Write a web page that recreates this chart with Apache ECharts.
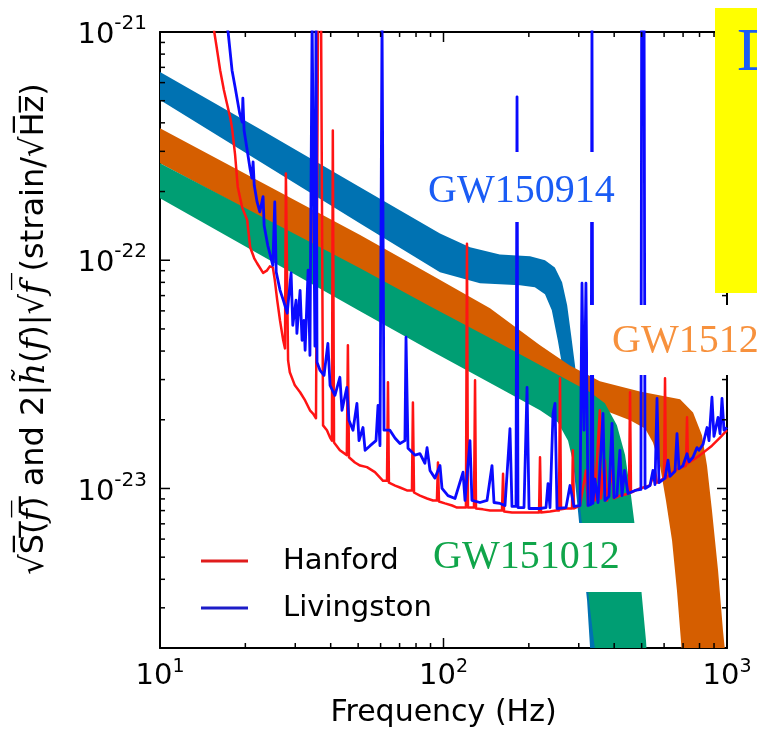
<!DOCTYPE html>
<html><head><meta charset="utf-8">
<script src="https://cdn.jsdelivr.net/npm/echarts@6/dist/echarts.min.js"></script>
<style>html,body{margin:0;padding:0;background:#fff}#c{width:757px;height:741px}</style>
</head><body><div id="c"></div>
<script>
// ---------- axes ----------
const xTicks = [10, 100, 1000];
const xMinorTicks = [20,30,40,50,60,70,80,90,200,300,400,500,600,700,800,900];
const yTicks = [1e-23, 1e-22, 1e-21];
const yMinorTicks = [3e-24,4e-24,5e-24,6e-24,7e-24,8e-24,9e-24,2e-23,3e-23,4e-23,5e-23,6e-23,7e-23,8e-23,9e-23,2e-22,3e-22,4e-22,5e-22,6e-22,7e-22,8e-22,9e-22];
const yMin = 2e-24, yMax = 1e-21;

// ---------- signal bands: [frequency Hz, strain] ----------
const gw150914Upper = [[10,6.68e-22],[22.5,3.76e-22],[50.8,2.09e-22],[97.2,1.31e-22],[124,1.14e-22],[158,1.06e-22],[202,1.04e-22],[228,1.0e-22],[247,9.3e-23],[262,8.0e-23],[273,6.35e-23],[282,4.69e-23],[291,3.46e-23],[301,2.31e-23],[313,1.2e-23],[329,5.9e-24],[342,3.2e-24],[359,1.6e-24]];
const gw150914Lower = [[10,5.03e-22],[50.8,1.45e-22],[97.2,8.86e-23],[134.5,7.93e-23],[186,7.77e-23],[210,7.61e-23],[228,7.1e-23],[241,6.04e-23],[253,4.46e-23],[264,3.29e-23],[275,2.2e-23],[286,1.33e-23],[298,8.0e-24],[310,4.83e-24],[321,3.23e-24],[329,1.99e-24],[334,1.59e-24]];
const gw151226Upper = [[10,3.79e-22],[50.8,1.29e-22],[89.6,8.68e-23],[145.9,6.16e-23],[219,4.24e-23],[279,3.46e-23],[356,2.95e-23],[493,2.66e-23],[683,2.46e-23],[759,2.15e-23],[816,1.71e-23],[850,1.26e-23],[885,8.0e-24],[930,4.37e-24],[968,2.38e-24],[1000,1.59e-24]];
const gw151226Lower = [[10,2.66e-22],[50.8,9.04e-23],[89.6,6.04e-23],[145.9,4.24e-23],[258,2.75e-23],[356,2.24e-23],[455,1.99e-23],[514,1.83e-23],[548,1.59e-23],[580,1.26e-23],[609,8.86e-24],[640,5.91e-24],[666,3.57e-24],[688,2.15e-24],[699,1.59e-24]];
const gw151012Upper = [[10,2.66e-22],[50.8,9.23e-23],[89.6,6.28e-23],[158,4.33e-23],[237.5,3.29e-23],[329,2.64e-23],[371,2.36e-23],[409,1.89e-23],[437,1.40e-23],[458.5,9.32e-24],[477.5,6.22e-24],[497,3.75e-24],[518,2.15e-24],[526,1.59e-24]];
const gw151012Lower = [[10,1.87e-22],[50.8,5.97e-23],[89.6,4.03e-23],[158,2.75e-23],[219,2.2e-23],[253,1.95e-23],[275,1.62e-23],[291,1.2e-23],[303,8.42e-24],[315.5,5.35e-24],[326,3.23e-24],[342,1.99e-24],[348,1.59e-24]];

// ---------- detector noise: [frequency Hz, strain/sqrt(Hz)] ----------
const hanford = [[15.3,1.13e-21],[15.8,8.77e-22],[16.3,6.8e-22],[16.8,5.57e-22],[17.2,4.9e-22],[17.7,4.2e-22],[17.95,3.8e-22],[18.4,2.9e-22],[18.8,2.1e-22],[19.5,1.7e-22],[20.3,1.5e-22],[20.8,1.14e-22],[21.5,1.02e-22],[22.0,9.7e-23],[23.1,8.8e-23],[23.8,9.0e-23],[24.4,9.4e-23],[25.0,9.3e-23],[25.4,8.2e-23],[25.9,6.7e-23],[26.5,5.45e-23],[27.2,4.46e-23],[27.6,4.11e-23],[27.8,2.4e-22],[28.3,3.64e-23],[28.7,3.23e-23],[29.9,2.83e-23],[31.2,2.64e-23],[32.5,2.43e-23],[33.8,2.2e-23],[34.65,2.13e-23],[35.5,2.03e-23],[36.1,1.13e-21],[37.0,1.13e-21],[37.6,1.89e-23],[38.8,1.80e-23],[39.8,1.67e-23],[40.4,1.62e-23],[40.7,3.7e-22],[41.1,1.59e-23],[43.1,1.47e-23],[45.6,1.4e-23],[46.0,4.24e-23],[46.4,1.37e-23],[48.7,1.30e-23],[50.8,1.26e-23],[53.7,1.24e-23],[57.3,1.18e-23],[61.2,1.08e-23],[63.2,1.08e-23],[63.7,2.92e-23],[64.2,1.06e-23],[67.5,1.03e-23],[70.2,1.01e-23],[74.3,9.8e-24],[77.4,9.8e-24],[78.0,2.38e-23],[78.7,9.6e-24],[82.6,9.3e-24],[87.5,9.04e-24],[91.8,8.86e-24],[94.8,8.86e-24],[95.6,1.30e-23],[96.4,8.77e-24],[101.2,8.6e-24],[107.2,8.42e-24],[111.6,8.25e-24],[120.0,8.25e-24],[121.0,1.18e-22],[122.0,8.25e-24],[126.0,8.25e-24],[128.1,8.25e-24],[129.2,2.98e-23],[130.2,8.17e-24],[137.8,8.1e-24],[145.9,8.0e-24],[160.8,8.0e-24],[162.2,1.16e-23],[163.5,7.93e-24],[174.4,7.85e-24],[186,7.85e-24],[201.9,7.85e-24],[217.3,7.85e-24],[219,1.37e-23],[220.8,7.85e-24],[237.5,7.93e-24],[249.4,8.0e-24],[255.5,8.0e-24],[257.6,3.04e-23],[259.7,8.1e-24],[270.5,8.17e-24],[284,8.17e-24],[285.9,1.47e-23],[288.6,8.17e-24],[303,8.42e-24],[318,1.2e-23],[323.4,8.42e-24],[336.5,1.40e-23],[342,8.86e-24],[350.8,1.62e-23],[356,2.2e-23],[359.4,9.04e-24],[371,1.33e-23],[377.4,8.86e-24],[393,1.2e-23],[399.4,9.04e-24],[419,9.3e-24],[451.1,9.5e-24],[455,2.64e-23],[458.5,9.6e-24],[493,1.0e-23],[535,1.03e-23],[557,1.2e-23],[566,1.06e-23],[599.7,1.11e-23],[604.5,3.04e-23],[609,1.11e-23],[655.6,1.2e-23],[716.9,1.26e-23],[722.8,2.05e-23],[728.6,1.29e-23],[803.5,1.4e-23],[885,1.54e-23],[945,1.67e-23],[1000,1.8e-23]];
const livingston = [[17.1,1.13e-21],[17.4,9.9e-22],[17.95,6.8e-22],[18.4,5.74e-22],[19.1,4.4e-22],[19.5,4.03e-22],[19.6,5.13e-22],[19.8,3.7e-22],[20.3,3.04e-22],[20.8,2.5e-22],[21.1,2.29e-22],[21.3,2.7e-22],[21.5,2.13e-22],[22.0,1.8e-22],[22.5,1.63e-22],[23.1,1.9e-22],[23.3,1.42e-22],[24.0,1.16e-22],[24.4,1.07e-22],[25.0,9.5e-23],[25.4,1.8e-22],[25.7,8.88e-23],[26.5,7.4e-23],[27.2,6.7e-23],[28.1,5.86e-23],[29.0,8.8e-23],[29.4,5.19e-23],[30.2,6.68e-23],[30.4,4.78e-23],[31.2,7.38e-23],[31.7,4.46e-23],[32.2,5.45e-23],[32.5,4.03e-23],[33.3,9.04e-23],[33.8,3.83e-23],[34.4,1.13e-21],[34.9,1.13e-21],[35.2,4.2e-23],[35.5,1.13e-21],[35.8,3.57e-23],[36.7,3.29e-23],[37.9,3.13e-23],[39.1,4.32e-23],[39.8,2.83e-23],[41.4,2.56e-23],[43.1,3.07e-23],[43.85,2.2e-23],[45.6,2.77e-23],[46.4,1.99e-23],[47.95,1.8e-23],[49.5,2.36e-23],[50.35,1.62e-23],[52.0,1.85e-23],[52.9,1.47e-23],[55.1,1.54e-23],[57.8,1.62e-23],[58.75,2.31e-23],[59.7,1.54e-23],[60.7,1.13e-21],[61.7,1.8e-23],[64.7,1.8e-23],[67.5,1.66e-23],[70.2,1.575e-23],[73.1,1.62e-23],[73.75,4.6e-23],[74.95,1.5e-23],[79.3,1.4e-23],[82.6,1.42e-23],[86.0,1.29e-23],[87.5,1.51e-23],[89.6,1.2e-23],[93.3,1.11e-23],[97.2,1.26e-23],[98.8,1.0e-23],[103.7,9.3e-24],[109.8,9.04e-24],[117.2,1.18e-23],[119.1,8.86e-24],[124.0,1.62e-23],[126.0,8.86e-24],[134.5,8.68e-24],[142.4,8.86e-24],[148.3,1.26e-23],[150.7,8.68e-24],[158.2,8.6e-24],[164.8,8.42e-24],[171.6,1.83e-23],[174.4,8.34e-24],[180.2,8.34e-24],[181.7,5.2e-22],[183.1,8.25e-24],[192.3,8.25e-24],[197.1,2.77e-23],[200.3,8.17e-24],[219,8.17e-24],[229.9,8.25e-24],[233.7,1.05e-23],[237.5,8.25e-24],[243.4,2.13e-23],[247.4,2.36e-23],[251.4,8.17e-24],[270.5,8.25e-24],[279.4,1.03e-23],[288.6,8.34e-24],[303,8.42e-24],[308,7.93e-23],[313,1.8e-23],[318,7.93e-23],[323.4,8.42e-24],[331.4,8.51e-24],[334,1.13e-21],[336.5,8.6e-24],[342,1.1e-23],[350.8,8.68e-24],[365.3,2.13e-23],[371,8.86e-24],[383.5,9.23e-24],[393,1.93e-23],[399.4,9.13e-24],[409,9.3e-24],[419,1.47e-23],[426.2,9.3e-24],[435,1.2e-23],[447.5,9.5e-24],[473.8,9.8e-24],[497,9.9e-24],[500,1.13e-21],[505,1.13e-21],[510,1.13e-21],[514,1.0e-23],[535.1,1.03e-23],[548,1.2e-23],[557.2,1.04e-23],[566.4,2.48e-23],[575.6,1.06e-23],[604.5,1.11e-23],[619.4,1.33e-23],[629.5,1.13e-23],[655.6,1.19e-23],[666.3,1.74e-23],[677.2,1.22e-23],[699.4,1.26e-23],[722.8,1.42e-23],[734.5,1.31e-23],[758.6,1.37e-23],[783.7,1.51e-23],[796.3,1.47e-23],[823,1.56e-23],[850.4,1.85e-23],[864,1.62e-23],[885,2.51e-23],[899.5,1.69e-23],[930,2.05e-23],[945,1.74e-23],[960.2,2.48e-23],[975.9,1.8e-23],[1000,1.85e-23]];

const FONT = 'DejaVu Sans';
// The log axis works in units of 1e-23 strain (ECharts rounds tiny extents); labels restore the exponent.
const UNIT_EXP = -23;
const UNIT = Math.pow(10, UNIT_EXP);
const scaled = arr => arr.map(p => [p[0], p[1] / UNIT]);
const supX = v => '{b|10}{s|' + Math.round(Math.log10(v)) + '}';
const supY = v => '{b|10}{s|' + (Math.round(Math.log10(v)) + UNIT_EXP) + '}';

function bandSeries(name, upper, lower, color) {
  const up = scaled(upper), lo = scaled(lower);
  return {
    type: 'custom', name: name, coordinateSystem: 'cartesian2d', clip: true, silent: true,
    data: up,
    renderItem: function (params, api) {
      if (params.dataIndex !== 0) return null;
      const pts = up.concat(lo.slice().reverse()).map(p => api.coord(p));
      return { type: 'polygon', shape: { points: pts }, style: { fill: color } };
    }
  };
}
// inward ticks on all four sides, positioned through the axes' own scales
function tickSeries(values, isX, len) {
  return {
    type: 'custom', coordinateSystem: 'cartesian2d', clip: false, silent: true, z: 10,
    data: values.map(v => isX ? [v, 1] : [100, v / UNIT]),
    renderItem: function (params, api) {
      const cs = params.coordSys;
      const st = { stroke: '#000', lineWidth: 1.5 };
      if (isX) {
        const x = api.coord([api.value(0), 1])[0];
        const b = cs.y + cs.height, t = cs.y;
        return { type: 'group', children: [
          { type: 'line', shape: { x1: x, y1: b, x2: x, y2: b - len }, style: st },
          { type: 'line', shape: { x1: x, y1: t, x2: x, y2: t + len }, style: st } ] };
      }
      const y = api.coord([100, api.value(1)])[1];
      const l = cs.x, r = cs.x + cs.width;
      return { type: 'group', children: [
        { type: 'line', shape: { x1: l, y1: y, x2: l + len, y2: y }, style: st },
        { type: 'line', shape: { x1: r, y1: y, x2: r - len, y2: y }, style: st } ] };
    }
  };
}

const axisLineStyle = { show: true, onZero: false, lineStyle: { color: '#000', width: 2 } };
const chart = echarts.init(document.getElementById('c'), null, { renderer: 'canvas' });
chart.setOption({
  animation: false,
  backgroundColor: '#fff',
  textStyle: { fontFamily: FONT },
  grid: { left: 160, top: 32, right: 30, bottom: 93, containLabel: false },
  xAxis: [
    { type: 'log', logBase: 10, min: 10, max: 1000, position: 'bottom', axisLine: axisLineStyle,
      axisTick: { show: false }, splitLine: { show: false },
      axisLabel: { show: true, customValues: xTicks, formatter: supX, margin: 10,
        rich: { b: { fontSize: 29, fontFamily: FONT, color: '#000', verticalAlign: 'bottom' },
                s: { fontSize: 19, fontFamily: FONT, color: '#000', verticalAlign: 'bottom', padding: [0, 0, 14, 0] } } },
      name: 'Frequency (Hz)', nameLocation: 'middle', nameGap: 50,
      nameTextStyle: { fontSize: 30, fontFamily: FONT, color: '#000' } },
    { type: 'log', logBase: 10, min: 10, max: 1000, position: 'top', axisLine: axisLineStyle,
      axisTick: { show: false }, axisLabel: { show: false }, splitLine: { show: false } }
  ],
  yAxis: [
    { type: 'log', logBase: 10, min: yMin / UNIT, max: yMax / UNIT, position: 'left', axisLine: axisLineStyle,
      axisTick: { show: false }, splitLine: { show: false },
      axisLabel: { show: true, customValues: yTicks.map(v => v / UNIT), formatter: supY, margin: 13,
        rich: { b: { fontSize: 29, fontFamily: FONT, color: '#000', verticalAlign: 'bottom' },
                s: { fontSize: 20, fontFamily: FONT, color: '#000', verticalAlign: 'bottom', padding: [0, 0, 16, 0] } } },
      name: '√S\u0305(\u0305{i|f\u0305})\u0305 and 2|{i|h\u0303}({i|f})|√{i|f\u0305} (strain/√H\u0305z\u0305)',
      nameLocation: 'middle', nameGap: 108,
      nameTextStyle: { fontSize: 32, fontFamily: FONT, color: '#000', padding: [0, 0, 0, 22],
        rich: { i: { fontSize: 34, fontFamily: 'DejaVu Serif', fontStyle: 'italic', color: '#000' } } } },
    { type: 'log', logBase: 10, min: yMin / UNIT, max: yMax / UNIT, position: 'right', axisLine: axisLineStyle,
      axisTick: { show: false }, axisLabel: { show: false }, splitLine: { show: false } }
  ],
  legend: {
    data: ['Hanford', 'Livingston'], orient: 'vertical', left: 196, top: 541,
    icon: 'rect', itemWidth: 47, itemHeight: 3, itemGap: 17,
    textStyle: { fontSize: 29, fontFamily: FONT, color: '#000', lineHeight: 30, padding: [0, 0, 0, 30] }
  },
  series: [
    bandSeries('GW150914', gw150914Upper, gw150914Lower, '#0072b2'),
    bandSeries('GW151226', gw151226Upper, gw151226Lower, '#d55e00'),
    bandSeries('GW151012', gw151012Upper, gw151012Lower, '#009e73'),
    { type: 'line', name: 'Hanford', data: scaled(hanford), symbol: 'none', showSymbol: false, clip: true,
      lineStyle: { color: '#ff1414', width: 2.5, join: 'round' }, itemStyle: { color: '#e01c1c' }, emphasis: { disabled: true } },
    { type: 'line', name: 'Livingston', data: scaled(livingston), symbol: 'none', showSymbol: false, clip: true,
      lineStyle: { color: '#0a0aff', width: 2.8, join: 'round' }, itemStyle: { color: '#1c1cc8' }, emphasis: { disabled: true } },
    tickSeries(xTicks, true, 10),
    tickSeries(xMinorTicks, true, 5),
    tickSeries(yTicks, false, 10),
    tickSeries(yMinorTicks, false, 5)
  ],
  graphic: [
    { type: 'rect', z: 100, shape: { x: 424, y: 152, width: 201, height: 70 }, style: { fill: '#fff' } },
    { type: 'text', z: 101, x: 428, y: 191, style: { text: 'GW150914', fill: '#1a5cf5', fontSize: 40, fontFamily: 'Liberation Serif', align: 'left', verticalAlign: 'middle' } },
    { type: 'rect', z: 100, shape: { x: 588, y: 305, width: 175, height: 70 }, style: { fill: '#fff' } },
    { type: 'text', z: 101, x: 612, y: 341, style: { text: 'GW1512', fill: '#f7913d', fontSize: 40, fontFamily: 'Liberation Serif', align: 'left', verticalAlign: 'middle' } },
    { type: 'rect', z: 100, shape: { x: 425, y: 523, width: 220, height: 69 }, style: { fill: '#fff' } },
    { type: 'text', z: 101, x: 433, y: 557, style: { text: 'GW151012', fill: '#10a54a', fontSize: 40, fontFamily: 'Liberation Serif', align: 'left', verticalAlign: 'middle' } },
    { type: 'rect', z: 100, shape: { x: 715, y: 8, width: 50, height: 285 }, style: { fill: '#ffff00' } },
    { type: 'text', z: 101, x: 737, y: 54, style: { text: 'D', fill: '#1a5cf5', fontSize: 62, fontFamily: 'Liberation Serif', align: 'left', verticalAlign: 'middle' } }
  ]
});
</script>
</body></html>
